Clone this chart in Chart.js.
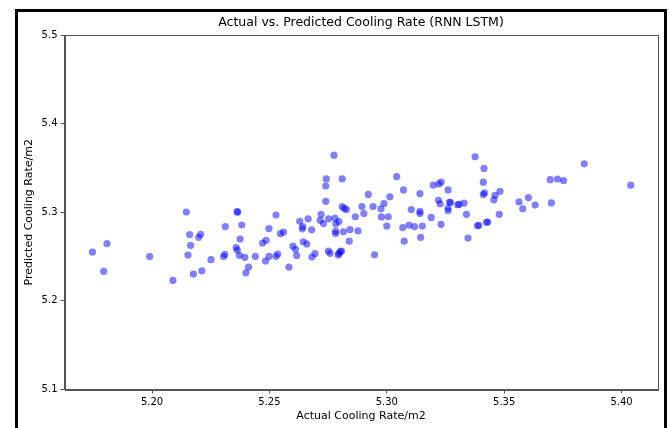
<!DOCTYPE html>
<html>
<head>
<meta charset="utf-8">
<script src="https://cdn.jsdelivr.net/npm/chart.js@4/dist/chart.umd.min.js"></script>
<style>
    html, body { margin: 0; padding: 0; background: #fff; overflow: hidden; }
    #wrap { position: relative; width: 670px; height: 428px; }
    #frame { position: absolute; left: 15px; top: 9px; width: 646px; height: 440px; border: 3px solid #000; pointer-events: none; }
</style>
</head>
<body>
<div id="wrap">
    <canvas id="scatterChart" width="670" height="428"></canvas>
    <div id="frame"></div>
</div>
<script>
// values
const actualRate = [
    5.1746, 5.1808, 5.1794, 5.1990, 5.2089, 5.2146, 5.2160, 5.2207, 5.2199, 5.2164,
    5.2153, 5.2176, 5.2212, 5.2251, 5.2310, 5.2305, 5.2312, 5.2362, 5.2365, 5.2382,
    5.2375, 5.2358, 5.2363, 5.2372, 5.2395, 5.2440, 5.2411, 5.2400, 5.2471, 5.2486,
    5.2483, 5.2498, 5.2528, 5.2535, 5.2528, 5.2498, 5.2547, 5.2560, 5.2583, 5.2600,
    5.2611, 5.2616, 5.2629, 5.2642, 5.2640, 5.2644, 5.2659, 5.2665, 5.2680, 5.2681,
    5.2694, 5.2720, 5.2716, 5.2730, 5.2752, 5.2779, 5.2796, 5.2783, 5.2782, 5.2782,
    5.2815, 5.2843, 5.2877, 5.2840, 5.2751, 5.2758, 5.2793, 5.2802, 5.2807, 5.2796,
    5.2775, 5.2742, 5.2740, 5.2810, 5.2740, 5.2810, 5.2819, 5.2828, 5.2894, 5.2902,
    5.2866, 5.2921, 5.2941, 5.2975, 5.2988, 5.3013, 5.3042, 5.3071, 5.2977, 5.3006,
    5.3000, 5.2948, 5.3068, 5.3095, 5.3074, 5.3104, 5.3118, 5.3141, 5.3141, 5.3141,
    5.3151, 5.3144, 5.3189, 5.3198, 5.3222, 5.3232, 5.3261, 5.3220, 5.3227, 5.3267,
    5.3271, 5.3261, 5.3261, 5.3231, 5.3302, 5.3308, 5.3329, 5.3339, 5.3346, 5.3376,
    5.3414, 5.3411, 5.3416, 5.3411, 5.3461, 5.3456, 5.3482, 5.3479, 5.3386, 5.3392,
    5.3425, 5.3430, 5.3563, 5.3579, 5.3603, 5.3632, 5.3701, 5.3696, 5.3727, 5.3753,
    5.3841, 5.4039
];
const predictedRate = [
    5.2551, 5.2646, 5.2333, 5.2500, 5.2231, 5.3003, 5.2749, 5.2751, 5.2717, 5.2627,
    5.2517, 5.2302, 5.2339, 5.2465, 5.2525, 5.2500, 5.2838, 5.3006, 5.3001, 5.2856,
    5.2698, 5.2602, 5.2573, 5.2514, 5.2491, 5.2503, 5.2381, 5.2317, 5.2653, 5.2683,
    5.2450, 5.2503, 5.2503, 5.2528, 5.2969, 5.2816, 5.2759, 5.2777, 5.2381, 5.2618,
    5.2582, 5.2512, 5.2898, 5.2838, 5.2813, 5.2667, 5.2643, 5.2926, 5.2802, 5.2494,
    5.2533, 5.2975, 5.2910, 5.2872, 5.2926, 5.2935, 5.2895, 5.2870, 5.2787, 5.2760,
    5.2780, 5.2804, 5.2789, 5.2674, 5.2561, 5.2537, 5.2519, 5.2556, 5.2561, 5.2537,
    5.3644, 5.3376, 5.3296, 5.3376, 5.3124, 5.3064, 5.3043, 5.3030, 5.3064, 5.2985,
    5.2949, 5.3201, 5.3065, 5.3039, 5.3099, 5.3175, 5.3401, 5.3252, 5.2947, 5.2949,
    5.2845, 5.2520, 5.2827, 5.2855, 5.2674, 5.3030, 5.2838, 5.3211, 5.3011, 5.2985,
    5.2844, 5.2716, 5.2942, 5.3307, 5.3320, 5.3341, 5.3252, 5.3135, 5.3096, 5.3115,
    5.3110, 5.3048, 5.3017, 5.2864, 5.3085, 5.3089, 5.3104, 5.2977, 5.2709, 5.3625,
    5.3495, 5.3339, 5.3218, 5.3200, 5.3192, 5.3140, 5.3237, 5.2977, 5.2847, 5.2852,
    5.2887, 5.2890, 5.3116, 5.3039, 5.3166, 5.3081, 5.3105, 5.3367, 5.3375, 5.3358,
    5.3546, 5.3305
];
const xTicks = [5.20, 5.25, 5.30, 5.35, 5.40];
const yTicks = [5.1, 5.2, 5.3, 5.4, 5.5];

const points = actualRate.map((x, i) => ({ x: x, y: predictedRate[i] }));

// matplotlib style box round the axes
const axesBox = {
    id: 'axesBox',
    afterDraw(chart) {
        const a = chart.chartArea;
        const ctx = chart.ctx;
        ctx.save();
        ctx.strokeStyle = '#555';
        ctx.lineWidth = 1;
        ctx.strokeRect(Math.round(a.left) + 0.5, Math.round(a.top) + 0.5,
            Math.round(a.right - a.left), Math.round(a.bottom - a.top));
        ctx.restore();
    }
};

const font = { family: 'DejaVu Sans', size: 10 };

new Chart(document.getElementById('scatterChart'), {
    type: 'scatter',
    data: {
        datasets: [{
            data: points,
            backgroundColor: 'rgba(0, 0, 255, 0.5)',
            borderWidth: 0,
            pointRadius: 3.6,
            pointHoverRadius: 3.6
        }]
    },
    options: {
        responsive: false,
        animation: false,
        layout: { padding: { left: 0, right: 12.5, top: 0, bottom: 0 } },
        plugins: {
            legend: { display: false },
            tooltip: { enabled: false },
            title: {
                display: true,
                text: 'Actual vs. Predicted Cooling Rate (RNN LSTM)',
                fullSize: false,
                color: '#000',
                font: { family: 'DejaVu Sans', size: 12.5, weight: 'normal' },
                padding: { top: 15, bottom: 5 }
            }
        },
        scales: {
            x: {
                type: 'linear',
                min: 5.1627,
                max: 5.4153,
                afterBuildTicks: s => { s.ticks = xTicks.map(v => ({ value: v })); },
                afterFit: s => { s.height = 38.5; },
                grid: { drawOnChartArea: false, drawTicks: true, tickLength: 4, tickColor: '#555' },
                border: { display: true, color: '#555' },
                ticks: { color: '#000', font: font, padding: 3, maxRotation: 0, callback: v => v.toFixed(2) },
                title: {
                    display: true,
                    text: 'Actual Cooling Rate/m2',
                    color: '#000',
                    font: { family: 'DejaVu Sans', size: 11 },
                    padding: { top: 0, bottom: 5 }
                }
            },
            y: {
                type: 'linear',
                min: 5.1,
                max: 5.5,
                afterBuildTicks: s => { s.ticks = yTicks.map(v => ({ value: v })); },
                afterFit: s => { s.width = 64.5; },
                grid: { drawOnChartArea: false, drawTicks: true, tickLength: 4, tickColor: '#555' },
                border: { display: true, color: '#555' },
                ticks: { color: '#000', font: font, padding: 3, callback: v => v.toFixed(1) },
                title: {
                    display: true,
                    text: 'Predicted Cooling Rate/m2',
                    color: '#000',
                    font: { family: 'DejaVu Sans', size: 11 },
                    padding: { top: 23, bottom: 0 }
                }
            }
        }
    },
    plugins: [axesBox]
});
</script>
</body>
</html>
